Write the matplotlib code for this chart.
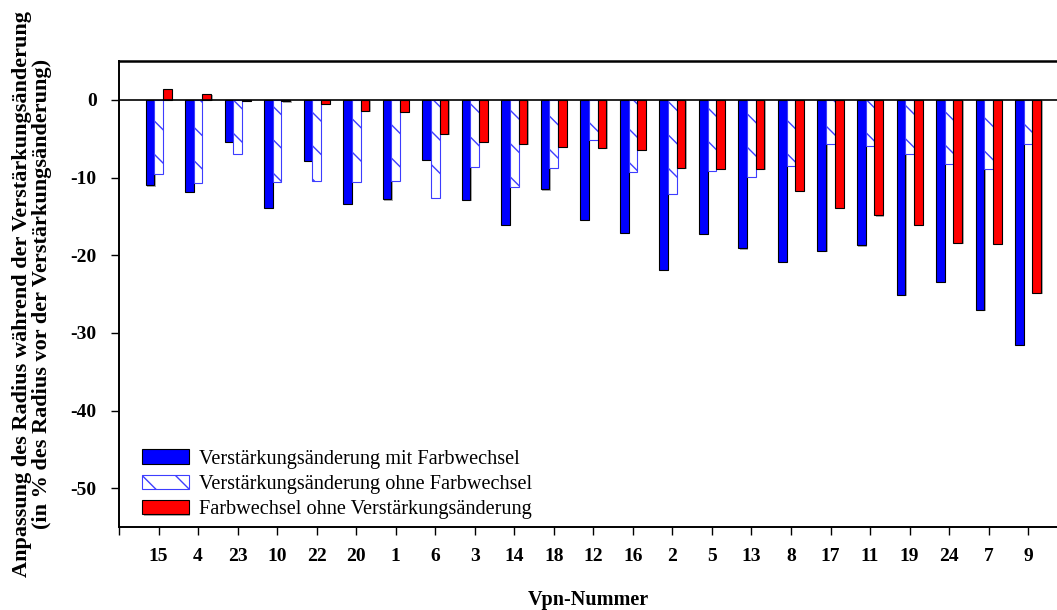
import numpy as np
import matplotlib
matplotlib.use("Agg")
import matplotlib.pyplot as plt
import matplotlib.patheffects as pe

# Vpn numbers in plotted order
vpn = ['15', '4', '23', '10', '22', '20', '1', '6', '3', '14', '18', '12',
       '16', '2', '5', '13', '8', '17', '11', '19', '24', '7', '9']

# radius adaptation in %
mit_farb = [-11.0, -11.8, -5.4, -13.9, -7.85, -13.4, -12.8, -7.7, -12.9, -16.05,
            -11.5, -15.45, -17.1, -21.9, -17.2, -19.1, -20.8, -19.4, -18.7,
            -25.05, -23.4, -27.0, -31.5]
ohne_farb = [-9.6, -10.7, -7.0, -10.6, -10.4, -10.6, -10.5, -12.6, -8.7, -11.2,
             -8.75, -5.2, -9.3, -12.15, -9.15, -9.95, -8.5, -5.7, -5.9, -7.0,
             -8.25, -8.9, -5.65]
nur_farb = [1.4, 0.8, -0.15, -0.2, -0.5, -1.4, -1.55, -4.35, -5.4, -5.65, -6.05,
            -6.2, -6.4, -8.75, -8.85, -8.9, -11.7, -13.9, -14.85, -16.1, -18.4,
            -18.5, -24.8]

plt.rcParams['font.family'] = ['Liberation Serif', 'DejaVu Serif']
plt.rcParams['hatch.linewidth'] = 1.0
plt.rcParams['axes.unicode_minus'] = False

fig = plt.figure(figsize=(10.57, 6.1), dpi=100)
ax = fig.add_axes([0.1126, 0.1356, 0.8874, 0.7644])

# small grey drop shadow like the original plotting software
shadow = [pe.SimplePatchShadow(offset=(1.0, -1.0), shadow_rgbFace='#777777', alpha=0.6),
          pe.Normal()]

x = np.arange(len(vpn))
w = 0.22
b1 = ax.bar(x - w, mit_farb, w, color='#0000ff', edgecolor='black', linewidth=0.8,
            label='Verstärkungsänderung mit Farbwechsel')
b2 = ax.bar(x, ohne_farb, w, color='white', edgecolor='#3d3dff', hatch='\\',
            linewidth=0.8, label='Verstärkungsänderung ohne Farbwechsel')
b3 = ax.bar(x + w, nur_farb, w, color='#ff0000', edgecolor='black', linewidth=0.8,
            label='Farbwechsel ohne Verstärkungsänderung')
for bars in (b1, b3):
    for p in bars:
        p.set_path_effects(shadow)
ax.axhline(0, color='black', linewidth=1.2)

ax.set_xlim(-1, 22.73)
ax.set_ylim(-55, 5)
ax.set_yticks([0, -10, -20, -30, -40, -50])
ax.set_xticks(np.arange(-1, len(vpn)))
ax.set_xticklabels([''] + vpn)
ax.tick_params(axis='both', direction='out', length=6, width=1, labelsize=14)
ax.tick_params(axis='x', pad=9)
ax.tick_params(axis='y', pad=10)
for lab in ax.get_xticklabels() + ax.get_yticklabels():
    lab.set_fontweight('bold')

ax.spines['right'].set_visible(False)
ax.spines['top'].set_linewidth(1.8)
ax.spines['left'].set_linewidth(1.4)
ax.spines['bottom'].set_linewidth(1.4)

ax.set_xlabel('Vpn-Nummer', fontsize=14.5, fontweight='bold', labelpad=18)
fig.text(0.0303, 0.518, 'Anpassung des Radius während der Verstärkungsänderung\n'
         '(in % des Radius vor der Verstärkungsänderung)',
         rotation=90, ha='center', va='center', multialignment='center',
         fontsize=16, fontweight='bold', linespacing=0.94)

ax.legend(loc='lower left', bbox_to_anchor=(0.016, 0.0), borderaxespad=0,
          frameon=False, fontsize=14.6, handlelength=2.3, handleheight=0.7,
          labelspacing=0.3, handletextpad=0.5)

fig.savefig('out.png', dpi=100)
